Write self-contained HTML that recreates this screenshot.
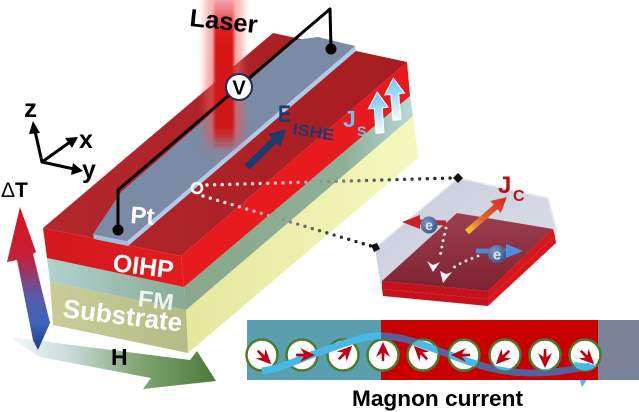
<!DOCTYPE html>
<html><head><meta charset="utf-8">
<style>
html,body{margin:0;padding:0;background:#fff;width:639px;height:412px;overflow:hidden}
svg{display:block}
text{font-family:"Liberation Sans",Arial,sans-serif;font-weight:bold}
</style></head><body>
<svg xmlns="http://www.w3.org/2000/svg" width="639" height="412" viewBox="0 0 639 412">
<defs>
<linearGradient id="topG" gradientUnits="userSpaceOnUse" x1="43" y1="0" x2="407" y2="0"><stop offset="0" stop-color="#b3282c"/><stop offset="1" stop-color="#a51c21"/></linearGradient>
<linearGradient id="redFront" x1="0" y1="0" x2="1" y2="0"><stop offset="0" stop-color="#d0191e"/><stop offset="1" stop-color="#e51b1d"/></linearGradient>
<linearGradient id="fmFront" x1="0" y1="0" x2="1" y2="0"><stop offset="0" stop-color="#b0d3d1"/><stop offset="1" stop-color="#88a992"/></linearGradient>
<linearGradient id="subFront" x1="0" y1="0" x2="1" y2="0"><stop offset="0" stop-color="#cacd99"/><stop offset="1" stop-color="#b5bb86"/></linearGradient>
<linearGradient id="fmSide" gradientUnits="userSpaceOnUse" x1="186" y1="0" x2="413" y2="0"><stop offset="0" stop-color="#89a88d"/><stop offset="0.7" stop-color="#8fb097"/><stop offset="1" stop-color="#bad7d5"/></linearGradient>
<linearGradient id="subSide" gradientUnits="userSpaceOnUse" x1="186" y1="0" x2="418" y2="0"><stop offset="0" stop-color="#e5e89e"/><stop offset="1" stop-color="#f5f8bd"/></linearGradient>
<linearGradient id="laserCore" x1="0" y1="0" x2="0" y2="1"><stop offset="0" stop-color="#f29a9a" stop-opacity="0.7"/><stop offset="0.2" stop-color="#dc1a1a"/><stop offset="0.85" stop-color="#cc1515"/><stop offset="1" stop-color="#cc1515" stop-opacity="0"/></linearGradient>
<linearGradient id="laserGlow" x1="0" y1="0" x2="0" y2="1"><stop offset="0" stop-color="#f07070" stop-opacity="0.5"/><stop offset="0.85" stop-color="#f05050" stop-opacity="0.6"/><stop offset="1" stop-color="#f05050" stop-opacity="0"/></linearGradient>
<linearGradient id="dtG" gradientUnits="userSpaceOnUse" x1="0" y1="207" x2="0" y2="350"><stop offset="0" stop-color="#e0101c"/><stop offset="0.35" stop-color="#c4203a"/><stop offset="0.62" stop-color="#5a5aa8"/><stop offset="0.82" stop-color="#3a64b8"/><stop offset="1" stop-color="#1e3c7c"/></linearGradient>
<linearGradient id="hG" gradientUnits="userSpaceOnUse" x1="10" y1="0" x2="216" y2="0"><stop offset="0" stop-color="#f4f8fc"/><stop offset="0.3" stop-color="#c6dad8"/><stop offset="0.6" stop-color="#86a877"/><stop offset="1" stop-color="#4a7a38"/></linearGradient>
<linearGradient id="dg1" gradientUnits="userSpaceOnUse" x1="207" y1="0" x2="452" y2="0"><stop offset="0" stop-color="#f2f2f2"/><stop offset="0.35" stop-color="#b8b8b8"/><stop offset="0.65" stop-color="#606060"/><stop offset="1" stop-color="#1a1a1a"/></linearGradient>
<linearGradient id="dg2" gradientUnits="userSpaceOnUse" x1="202" y1="0" x2="372" y2="0"><stop offset="0" stop-color="#f2f2f2"/><stop offset="0.35" stop-color="#b0b0b0"/><stop offset="0.7" stop-color="#505050"/><stop offset="1" stop-color="#111"/></linearGradient>
<linearGradient id="jsG" x1="0" y1="0" x2="0" y2="1"><stop offset="0" stop-color="#66c6f0"/><stop offset="1" stop-color="#f8fcff"/></linearGradient>
<linearGradient id="jcG" gradientUnits="userSpaceOnUse" x1="0" y1="0" x2="53" y2="0"><stop offset="0" stop-color="#f2c830"/><stop offset="0.35" stop-color="#e46a30"/><stop offset="1" stop-color="#d42828"/></linearGradient>
<linearGradient id="boxG" x1="0" y1="0" x2="1" y2="1"><stop offset="0" stop-color="#c2c7d8"/><stop offset="1" stop-color="#dcdfe8"/></linearGradient>
<linearGradient id="plateG" x1="0" y1="0" x2="0" y2="1"><stop offset="0" stop-color="#9c4050"/><stop offset="1" stop-color="#7e2232"/></linearGradient>
<radialGradient id="eG" cx="0.35" cy="0.35" r="0.7"><stop offset="0" stop-color="#7b97c4"/><stop offset="1" stop-color="#3b5888"/></radialGradient>
<filter id="b4" x="-50%" y="-20%" width="200%" height="140%"><feGaussianBlur stdDeviation="4"/></filter>
<filter id="b1" x="-50%" y="-20%" width="200%" height="140%"><feGaussianBlur stdDeviation="1.2"/></filter>
<clipPath id="cpRed"><rect x="381" y="320" width="217" height="60"/></clipPath>
<clipPath id="cpLB">
<rect x="247" y="300" width="134" height="80"/><rect x="598" y="300" width="41" height="80"/><rect x="247" y="380" width="392" height="30"/>
<circle cx="262" cy="355" r="15.5"/><circle cx="302" cy="355" r="15.5"/><circle cx="343" cy="355" r="15.5"/><circle cx="383" cy="355" r="15.5"/><circle cx="423" cy="355" r="15.5"/><circle cx="464" cy="355" r="15.5"/><circle cx="505" cy="355" r="15.5"/><circle cx="545" cy="355" r="15.5"/><circle cx="585" cy="355" r="15.5"/>
</clipPath>
<path id="dart" d="M0,-13 L7,2 L1.5,-2 L1.2,6 L-1.2,6 L-1.5,-2 L-7,2 Z"/>
</defs>

<!-- H arrow -->
<polygon points="10,337 190,360 197,351 216,381 143,389 151,378 40,357" fill="url(#hG)"/>
<!-- Delta T arrow -->
<polygon points="20,207 36,252 33,254 50,323 38,350 33,340 17,260 7,262" fill="url(#dtG)"/>

<!-- slab: substrate -->
<polygon points="186,310 413,116 418,158 188,353" fill="url(#subSide)"/>
<polygon points="50,282 186,310 188,353 53,325" fill="url(#subFront)"/>
<!-- FM -->
<polygon points="184,287 410,96 413,116 186,310" fill="url(#fmSide)"/>
<polygon points="47,258 184,287 186,310 50,282" fill="url(#fmFront)"/>
<!-- red OIHP -->
<polygon points="181,256 407,62 410,96 184,287" fill="#e71a1d"/>
<polygon points="43,228 181,256 184,287 47,258" fill="url(#redFront)"/>
<polygon points="43,228 181,256 407,62 273,33" fill="url(#topG)"/>

<!-- Pt strip -->
<polygon points="127,241 355,46 356,51 128,246" fill="#aecce8"/>
<polygon points="93,234 127,241 128,246 94,239" fill="#9fbde0"/>
<polygon points="93,234 127,241 355,46 318,37 296,40 121,192" fill="#7b8ba6"/>

<!-- laser -->
<rect x="205" y="-6" width="38" height="162" fill="url(#laserGlow)" filter="url(#b4)"/>
<rect x="214" y="0" width="20" height="150" fill="url(#laserCore)" filter="url(#b1)"/>

<!-- dotted connectors -->
<line x1="207" y1="185" x2="452" y2="178" stroke="url(#dg1)" stroke-width="3.4" stroke-linecap="round" stroke-dasharray="0 7.6"/>
<line x1="203" y1="196" x2="371" y2="246" stroke="url(#dg2)" stroke-width="3.4" stroke-linecap="round" stroke-dasharray="0 7.6"/>
<circle cx="197" cy="188" r="5" fill="none" stroke="#fff" stroke-width="2.6"/>

<!-- wire -->
<polyline points="118,230 118,190 330,9 331,48" fill="none" stroke="#000" stroke-width="3" stroke-linejoin="round"/>
<circle cx="118" cy="230" r="5.5" fill="#000"/>
<circle cx="331" cy="49" r="5.5" fill="#000"/>
<circle cx="239" cy="87" r="13" fill="#fff" stroke="#1b2d5c" stroke-width="2"/>
<text x="239" y="94.5" font-size="20" text-anchor="middle" fill="#000">V</text>

<text x="189" y="26" font-size="25" textLength="68" lengthAdjust="spacingAndGlyphs" transform="rotate(6 189 26)" fill="#000">Laser</text>

<!-- axes -->
<g stroke="#000" stroke-width="3" fill="none" stroke-linecap="round">
<line x1="42" y1="162" x2="35" y2="131"/>
<line x1="42" y1="162" x2="70" y2="142"/>
<line x1="42" y1="162" x2="74" y2="169"/>
</g>
<polygon points="33,121 40,133 29,134" fill="#000"/>
<polygon points="78,137 72,148 65,138" fill="#000"/>
<polygon points="83,171 71,175 73,163" fill="#000"/>
<text x="24" y="117" font-size="26" fill="#000">z</text>
<text x="79" y="148" font-size="25" fill="#000">x</text>
<text x="82" y="178" font-size="25" fill="#000">y</text>
<text x="1" y="197" font-size="21" fill="#000"><tspan font-weight="normal">Δ</tspan>T</text>

<!-- slab labels -->
<text x="130" y="223" font-size="24" fill="#fff" transform="rotate(4 130 223)">Pt</text>
<text x="112" y="271" font-size="25" fill="#fff" textLength="61" lengthAdjust="spacingAndGlyphs" transform="rotate(7 112 271)">OIHP</text>
<text x="137" y="306" font-size="23" fill="#eef4ee" textLength="36" lengthAdjust="spacingAndGlyphs" transform="rotate(7 137 306)">FM</text>
<text x="62" y="317" font-size="26" fill="#fff" textLength="120" lengthAdjust="spacingAndGlyphs" transform="rotate(7 62 317)">Substrate</text>
<text x="111" y="365" font-size="23" fill="#000">H</text>

<!-- E_ISHE -->
<g transform="translate(247,167) rotate(-44.2)"><polygon points="0,-3.5 38,-3.5 38,-9 54,0 38,9 38,3.5 0,3.5" fill="#1f3a6d"/></g>
<text x="278" y="122" font-size="24" fill="#1f3a6d" textLength="13" lengthAdjust="spacingAndGlyphs">E</text>
<text x="292" y="134" font-size="16" fill="#1f3a6d" textLength="42" lengthAdjust="spacingAndGlyphs" transform="rotate(9 292 134)">ISHE</text>

<!-- J_S -->
<text x="343" y="127" font-size="23" fill="#6ec3ea">J</text>
<text x="357" y="136" font-size="14" fill="#6ec3ea">S</text>
<g transform="translate(380,133) rotate(-4)"><polygon points="-4,0 -4,-25 -10,-25 0,-41 10,-25 4,-25 4,0" fill="url(#jsG)" stroke="#fff" stroke-width="1"/></g>
<g transform="translate(397,120) rotate(-5)"><polygon points="-4,0 -4,-26 -10,-26 0,-42 10,-26 4,-26 4,0" fill="url(#jsG)" stroke="#fff" stroke-width="1"/></g>

<!-- inset -->
<polygon points="375,248 458,178 548,198 557,232 488,300 381,288" fill="url(#boxG)" opacity="0.92"/>
<polygon points="382,289 488,299 488,306 383,296" fill="#c5121c"/>
<polygon points="488,299 555,236 556,243 488,306" fill="#d8161e"/>
<polygon points="382,281 457,213 553,229 488,291" fill="url(#plateG)"/>
<polygon points="382,281 488,291 488,299 382,289" fill="#c5121c"/>
<polygon points="488,291 553,229 555,236 488,299" fill="#d8161e"/>
<polyline points="375,248 458,178 548,198 557,232" fill="none" stroke="#e8eaf2" stroke-width="1.5"/>
<polygon points="458,173 463,178 458,183 453,178" fill="#111"/>
<polygon points="371,245 377,243 380,249 374,252" fill="#111"/>

<g transform="translate(467,232) rotate(-41.2)"><polygon points="0,-3 38,-3 38,-8 53,0 38,8 38,3 0,3" fill="url(#jcG)"/></g>
<text x="498" y="193" font-size="24" fill="#b5121b">J</text>
<text x="513" y="201" font-size="16" fill="#b5121b">C</text>

<line x1="446" y1="223" x2="418" y2="222" stroke="#c8202a" stroke-width="5"/>
<polygon points="402,222 420,215 420,229" fill="#cc2028"/>
<circle cx="429" cy="225" r="8.5" fill="url(#eG)"/>
<text x="429" y="230" font-size="14" text-anchor="middle" fill="#dde6f5">e</text>

<line x1="476" y1="251" x2="508" y2="251" stroke="#4f88cc" stroke-width="5"/>
<polygon points="506,244 523,251 506,258" fill="#4f8ee0"/>
<circle cx="497" cy="254" r="9" fill="url(#eG)"/>
<text x="497" y="259.5" font-size="15" text-anchor="middle" fill="#dde6f5">e</text>

<polyline points="446,228 443,241 440,257" fill="none" stroke="#f2f2f8" stroke-width="2.8" stroke-linecap="round" stroke-dasharray="0 6.5"/>
<polygon points="427,261 433,265 440,262 433,272" fill="#eeeef5"/>
<polyline points="478,256 463,262 451,269" fill="none" stroke="#f2f2f8" stroke-width="2.8" stroke-linecap="round" stroke-dasharray="0 6.5"/>
<polygon points="440,271 446,274 452,272 443,283" fill="#eeeef5"/>

<!-- magnon panel -->
<rect x="247" y="320" width="134" height="60" fill="#5a9fb0"/>
<rect x="381" y="320" width="217" height="60" fill="#c80000"/>
<rect x="598" y="320" width="41" height="60" fill="#7b8398"/>
<path d="M262,371 C285,368 300,358 320,352 C345,344 365,334 385,336 C410,338 425,346 445,353 C470,362 495,373 530,373 C555,373 570,370 590,366" fill="none" stroke="#56609e" stroke-width="7" clip-path="url(#cpRed)"/>
<g fill="#fff" stroke="#4d7a2c" stroke-width="2.5">
<circle cx="262" cy="355" r="15.5"/><circle cx="302" cy="355" r="15.5"/><circle cx="343" cy="355" r="15.5"/><circle cx="383" cy="355" r="15.5"/><circle cx="423" cy="355" r="15.5"/><circle cx="464" cy="355" r="15.5"/><circle cx="505" cy="355" r="15.5"/><circle cx="545" cy="355" r="15.5"/><circle cx="585" cy="355" r="15.5"/>
</g>
<g clip-path="url(#cpLB)">
<path d="M262,371 C285,368 300,358 320,352 C345,344 365,334 385,336 C410,338 425,346 445,353 C470,362 495,373 530,373 C555,373 570,370 590,366" fill="none" stroke="#46b9e6" stroke-width="7"/>
<polygon points="574,362 597,365 582,387" fill="#46b9e6"/>
</g>
<g fill="#c00012">
<use href="#dart" transform="translate(262,355) rotate(135)"/>
<use href="#dart" transform="translate(302,355) rotate(90)"/>
<use href="#dart" transform="translate(343,355) rotate(45)"/>
<use href="#dart" transform="translate(383,355) rotate(0)"/>
<use href="#dart" transform="translate(423,355) rotate(-45)"/>
<use href="#dart" transform="translate(464,355) rotate(-90)"/>
<use href="#dart" transform="translate(505,355) rotate(-135)"/>
<use href="#dart" transform="translate(545,355) rotate(180)"/>
<use href="#dart" transform="translate(585,355) rotate(135)"/>
</g>
<text x="352" y="406" font-size="22.5" fill="#000" textLength="171" lengthAdjust="spacingAndGlyphs">Magnon current</text>
</svg>
</body></html>
